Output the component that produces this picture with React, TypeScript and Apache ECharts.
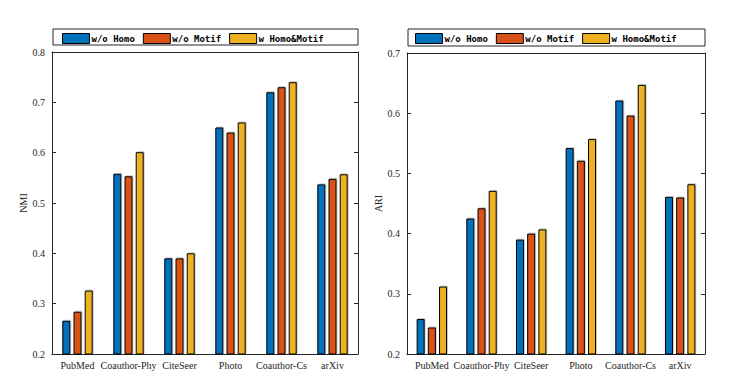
import React, { useEffect, useRef } from "react";
import * as echarts from "echarts";

const categories = ["PubMed", "Coauthor-Phy", "CiteSeer", "Photo", "Coauthor-Cs", "arXiv"];
const seriesNames = ["w/o Homo", "w/o Motif", "w Homo&Motif"];
const colors = ["#0072BD", "#D95319", "#EDB120"];

const nmiWoHomo = [0.266, 0.558, 0.39, 0.65, 0.72, 0.537];
const nmiWoMotif = [0.284, 0.553, 0.39, 0.64, 0.73, 0.548];
const nmiFull = [0.326, 0.601, 0.4, 0.66, 0.74, 0.557];

const ariWoHomo = [0.258, 0.425, 0.39, 0.542, 0.621, 0.461];
const ariWoMotif = [0.244, 0.442, 0.4, 0.521, 0.596, 0.46];
const ariFull = [0.312, 0.471, 0.407, 0.557, 0.647, 0.482];

const axisColor = "#262626";
const serif = "Liberation Serif";

export default function App() {
  const ref = useRef<HTMLDivElement>(null);
  useEffect(() => {
    if (!ref.current) return;
    const chart = echarts.init(ref.current, undefined, { renderer: "svg" });
    const grids = [
      { left: 52, right: 389, top: 52, bottom: 35 },
      { left: 407, right: 42, top: 53, bottom: 35 },
    ];
    const xAxes: any[] = [];
    const yAxes: any[] = [];
    [0, 1].forEach((g) => {
      xAxes.push({
        type: "category",
        gridIndex: g,
        data: categories,
        position: "bottom",
        axisLine: { lineStyle: { color: axisColor, width: 1 } },
        axisTick: { alignWithLabel: true, inside: true, length: 3, lineStyle: { color: axisColor } },
        axisLabel: { color: axisColor, fontFamily: serif, fontSize: 10, margin: 6, interval: 0 },
      });
      xAxes.push({
        type: "category",
        gridIndex: g,
        data: categories,
        position: "top",
        axisLine: { lineStyle: { color: axisColor, width: 1 } },
        axisTick: { alignWithLabel: true, inside: true, length: 3, lineStyle: { color: axisColor } },
        axisLabel: { show: false },
      });
      const max = g === 0 ? 0.8 : 0.7;
      yAxes.push({
        type: "value",
        gridIndex: g,
        min: 0.2,
        max,
        interval: 0.1,
        position: "left",
        name: g === 0 ? "NMI" : "ARI",
        nameLocation: "middle",
        nameGap: 14,
        nameTextStyle: { color: axisColor, fontFamily: serif, fontSize: 10 },
        axisLine: { show: true, lineStyle: { color: axisColor, width: 1 } },
        axisTick: { show: true, inside: true, length: 4, lineStyle: { color: axisColor } },
        axisLabel: { color: axisColor, fontFamily: serif, fontSize: 10, margin: 7, formatter: (v: number) => v.toFixed(1) },
        splitLine: { show: false },
      });
      yAxes.push({
        type: "value",
        gridIndex: g,
        min: 0.2,
        max,
        interval: 0.1,
        position: "right",
        axisLine: { show: true, lineStyle: { color: axisColor, width: 1 } },
        axisTick: { show: true, inside: true, length: 4, lineStyle: { color: axisColor } },
        axisLabel: { show: false },
        splitLine: { show: false },
      });
    });
    const data = [
      [nmiWoHomo, nmiWoMotif, nmiFull],
      [ariWoHomo, ariWoMotif, ariFull],
    ];
    const series: any[] = [];
    [0, 1].forEach((g) => {
      data[g].forEach((vals, i) => {
        series.push({
          type: "bar",
          name: seriesNames[i],
          xAxisIndex: g * 2,
          yAxisIndex: g * 2,
          data: vals,
          barWidth: 8,
          barGap: "40%",
          itemStyle: {
            color: colors[i],
            borderColor: "#000",
            borderWidth: 1,
            shadowColor: "rgba(0,0,0,0.2)",
            shadowBlur: 0,
            shadowOffsetX: 1,
            shadowOffsetY: -1,
          },
        });
      });
    });
    const legendCommon = {
      data: seriesNames.map((n) => ({ name: n, icon: "rect" })),
      itemWidth: 27,
      itemHeight: 10,
      itemGap: 8,
      selectedMode: false,
      padding: 0,
      itemStyle: { borderColor: "#000", borderWidth: 1, shadowBlur: 0, shadowColor: "transparent", shadowOffsetX: 0, shadowOffsetY: 0 },
      textStyle: {
        fontFamily: "DejaVu Sans Mono",
        fontWeight: "bold",
        fontSize: 9,
        color: "#000",
        padding: [0, 0, 0, -3],
      },
    };
    chart.setOption({
      animation: false,
      backgroundColor: "#fff",
      grid: grids,
      xAxis: xAxes,
      yAxis: yAxes,
      series,
      legend: [
        { ...legendCommon, left: 62, top: 33 },
        { ...legendCommon, left: 415, top: 33 },
      ],
      graphic: [
        {
          type: "rect",
          shape: { x: 53, y: 29, width: 305, height: 16 },
          style: { fill: "none", stroke: axisColor, lineWidth: 1 },
          z: -1,
        },
        {
          type: "rect",
          shape: { x: 408, y: 29, width: 297, height: 17 },
          style: { fill: "none", stroke: axisColor, lineWidth: 1 },
          z: -1,
        },
      ],
    });
    return () => chart.dispose();
  }, []);
  return <div ref={ref} style={{ width: 747, height: 389, position: "absolute", left: 0, top: 0 }} />;
}
